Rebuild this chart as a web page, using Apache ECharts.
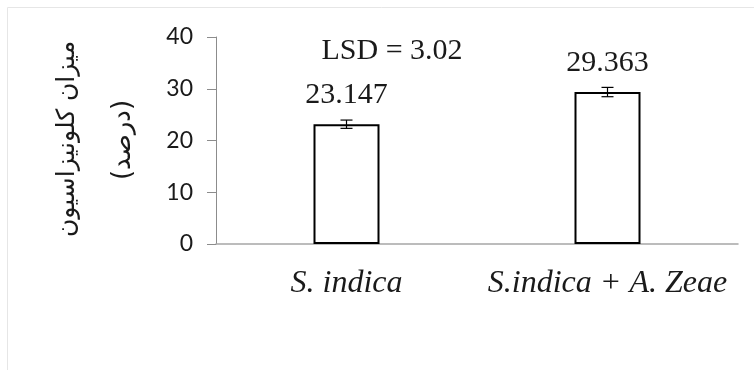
<!DOCTYPE html>
<html><head><meta charset="utf-8">
<script src="https://cdn.jsdelivr.net/npm/echarts@6/dist/echarts.min.js"></script>
<style>html,body{margin:0;padding:0;background:#fff}#c{width:754px;height:370px}</style>
</head><body><div id="c"></div>
<script>
const categories = ['S. indica', 'S.indica + A. Zeae'];
const values = [23.147, 29.363];
const errors = [0.8, 0.9];
const valueLabels = ['23.147', '29.363'];
const yTicks = [0, 10, 20, 30, 40];
const lsdText = 'LSD = 3.02';
const yTitle1 = 'میزان کلونیزاسیون';
const yTitle2 = '(درصد)';

const chart = echarts.init(document.getElementById('c'));
chart.setOption({
  animation: false,
  grid: { left: 216, right: 16, top: 37, bottom: 126 },
  xAxis: {
    type: 'category', data: categories,
    axisLine: { lineStyle: { color: '#a6a6a6', width: 1.5 } },
    axisTick: { show: false },
    axisLabel: { interval: 0, fontFamily: 'Liberation Serif', fontStyle: 'italic', fontSize: 32, color: '#1a1a1a', margin: 24 }
  },
  yAxis: {
    type: 'value', min: yTicks[0], max: yTicks[yTicks.length - 1], interval: 10,
    splitLine: { show: false },
    axisLine: { show: true, lineStyle: { color: '#8c8c8c', width: 1 } },
    axisTick: { show: true, length: 9, lineStyle: { color: '#8c8c8c' } },
    axisLabel: { fontFamily: 'Lato', fontSize: 23, color: '#1a1a1a', margin: 23 }
  },
  series: [
    {
      type: 'bar', data: values, barWidth: 66,
      itemStyle: { color: '#ffffff', borderColor: '#000', borderWidth: 2 },
      label: {
        show: true, position: 'top', distance: 14,
        formatter: p => valueLabels[p.dataIndex],
        fontFamily: 'Liberation Serif', fontSize: 30, color: '#1a1a1a'
      }
    },
    {
      type: 'custom', z: 10,
      data: values.map((v, i) => [i, v, errors[i]]),
      renderItem: (params, api) => {
        const x = api.value(0), v = api.value(1), e = api.value(2);
        const hi = api.coord([x, v + e]);
        const lo = api.coord([x, v - e]);
        const w = 6;
        const st = { stroke: '#000', lineWidth: 1.2 };
        return { type: 'group', children: [
          { type: 'line', shape: { x1: hi[0], y1: hi[1], x2: lo[0], y2: lo[1] }, style: st },
          { type: 'line', shape: { x1: hi[0] - w, y1: hi[1], x2: hi[0] + w, y2: hi[1] }, style: st },
          { type: 'line', shape: { x1: lo[0] - w, y1: lo[1], x2: lo[0] + w, y2: lo[1] }, style: st }
        ]};
      }
    }
  ],
  graphic: [
    { type: 'rect', shape: { x: 7.5, y: 7.5, width: 800, height: 400 }, style: { fill: 'none', stroke: '#e6e6e6', lineWidth: 1 }, silent: true },
    { type: 'text', x: 392, y: 51, style: { text: lsdText, font: '30px "Liberation Serif"', fill: '#1a1a1a', align: 'center', verticalAlign: 'middle' } },
    { type: 'text', x: 67, y: 139, rotation: Math.PI / 2, style: { text: yTitle1, font: '25px "DejaVu Sans"', fill: '#1a1a1a', align: 'center', verticalAlign: 'middle' } },
    { type: 'text', x: 123, y: 140, rotation: Math.PI / 2, style: { text: yTitle2, font: '26px "DejaVu Sans"', fill: '#1a1a1a', align: 'center', verticalAlign: 'middle' } }
  ]
});
</script></body></html>
